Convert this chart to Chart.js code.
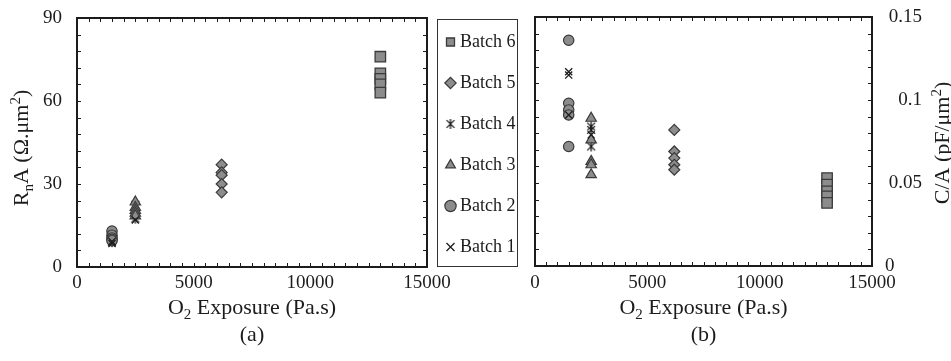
<!DOCTYPE html>
<html>
<head>
<meta charset="utf-8">
<script src="https://cdn.jsdelivr.net/npm/chart.js@4/dist/chart.umd.min.js"></script>
<style>
  html, body { margin: 0; padding: 0; background: #fff; }
  #wrap { position: relative; width: 951px; height: 361px; overflow: hidden; }
  #wrap canvas { position: absolute; left: 0; top: 0; }
  #legendBox { position: absolute; left: 437px; top: 19px; width: 81px; height: 248px;
               border: 1.3px solid #333; box-sizing: border-box; }
</style>
</head>
<body>
<div id="wrap">
  <canvas id="rnaChart" width="951" height="361"></canvas>
  <canvas id="capChart" width="951" height="361"></canvas>
  <div id="legendBox"></div>
  <canvas id="keyChart" width="951" height="361"></canvas>
</div>
<script>
// ---- data -------------------------------------------------------------
const batchNames = ['Batch 1', 'Batch 2', 'Batch 3', 'Batch 4', 'Batch 5', 'Batch 6'];

// [O2 exposure (Pa.s), RnA (Ω.μm²)]
const rnaBatch1 = [[1500, 8.5], [1500, 9.2], [2500, 17]];
const rnaBatch2 = [[1500, 13], [1500, 11.5], [1500, 10.5], [1500, 10], [1500, 9.5]];
const rnaBatch3 = [[2500, 23.5], [2500, 21.5], [2500, 20.5], [2500, 19.5], [2500, 18.5]];
const rnaBatch4 = [[2500, 22.5], [2500, 19], [2500, 17.5], [1500, 9]];
const rnaBatch5 = [[6200, 37], [6200, 34.2], [6200, 33.2], [6200, 30], [6200, 27]];
const rnaBatch6 = [[13000, 76], [13000, 70], [13000, 68], [13000, 66], [13000, 63]];

// [O2 exposure (Pa.s), C/A (pF/μm²)]
const capBatch1 = [[1500, 0.117], [1500, 0.115], [1500, 0.091], [2500, 0.079]];
const capBatch2 = [[1500, 0.136], [1500, 0.098], [1500, 0.094], [1500, 0.091], [1500, 0.072]];
const capBatch3 = [[2500, 0.089], [2500, 0.076], [2500, 0.063], [2500, 0.061], [2500, 0.055]];
const capBatch4 = [[2500, 0.084], [2500, 0.082], [2500, 0.072]];
const capBatch5 = [[6200, 0.082], [6200, 0.069], [6200, 0.065], [6200, 0.061], [6200, 0.058]];
const capBatch6 = [[13000, 0.053], [13000, 0.049], [13000, 0.045], [13000, 0.042], [13000, 0.038]];

const exposureTicks = [0, 5000, 10000, 15000];
const rnaTicks = [0, 30, 60, 90];
const capTicks = [0, 0.05, 0.1, 0.15];

// ---- styling ----------------------------------------------------------
const INK = '#1c1c1c';
const FILL = '#8c8c8c';
const EDGE = '#3a3a3a';
const SERIF = '"Liberation Serif", "Times New Roman", serif';

// six-armed asterisk marker (X plus a vertical bar)
function asteriskMark(size) {
  const c = document.createElement('canvas');
  c.width = c.height = size;
  const g = c.getContext('2d');
  const m = size / 2, r = size / 2 - 1, d = r * 0.78;
  g.strokeStyle = INK;
  g.lineWidth = 1.3;
  g.beginPath();
  g.moveTo(m - d, m - d); g.lineTo(m + d, m + d);
  g.moveTo(m + d, m - d); g.lineTo(m - d, m + d);
  g.moveTo(m, m - r); g.lineTo(m, m + r);
  g.stroke();
  return c;
}

const markStyles = [
  { pointStyle: 'crossRot', pointRadius: 5, backgroundColor: INK, borderColor: INK, borderWidth: 1.3 },
  { pointStyle: 'circle', pointRadius: 5.2, backgroundColor: FILL, borderColor: EDGE, borderWidth: 1.2 },
  { pointStyle: 'triangle', pointRadius: 6, backgroundColor: FILL, borderColor: EDGE, borderWidth: 1.2 },
  { pointStyle: asteriskMark(12), pointRadius: 6, backgroundColor: INK, borderColor: INK, borderWidth: 1.3 },
  { pointStyle: 'rectRot', pointRadius: 5.5, backgroundColor: FILL, borderColor: EDGE, borderWidth: 1.2 },
  { pointStyle: 'rect', pointRadius: 7.4, backgroundColor: FILL, borderColor: EDGE, borderWidth: 1.3 }
];

const toPoints = pairs => pairs.map(([x, y]) => ({ x, y }));

function makeDatasets(seriesList) {
  return batchNames.map((name, i) => Object.assign(
    { label: name, data: seriesList ? toPoints(seriesList[i]) : [], pointHoverRadius: markStyles[i].pointRadius },
    markStyles[i]
  ));
}

// ---- text helpers (sub/superscripts) ------------------------------------
function partFont(p, size) {
  return `${p.sub || p.sup ? Math.round(size * 0.66) : size}px ${SERIF}`;
}
function richWidth(ctx, parts, size) {
  let w = 0;
  parts.forEach(p => { ctx.font = partFont(p, size); w += ctx.measureText(p.t).width; });
  return w;
}
function drawRich(ctx, parts, cx, cy, size) {
  let x = cx - richWidth(ctx, parts, size) / 2;
  const base = cy + size * 0.33;
  ctx.textAlign = 'left';
  ctx.textBaseline = 'alphabetic';
  parts.forEach(p => {
    ctx.font = partFont(p, size);
    const yy = p.sub ? base + size * 0.2 : p.sup ? base - size * 0.38 : base;
    ctx.fillText(p.t, x, yy);
    x += ctx.measureText(p.t).width;
  });
}

// ---- frame, inward ticks, labels and titles ------------------------------
const framePlugin = {
  id: 'frame',
  afterDraw(chart, args, o) {
    const { ctx, chartArea: a, scales: { x, y } } = chart;
    const T = 4;
    ctx.save();
    ctx.strokeStyle = INK;
    ctx.lineWidth = 1;
    ctx.beginPath();
    for (let i = 0; ; i++) {
      const v = x.min + i * o.xStep;
      if (v > x.max + 1e-9) break;
      const px = Math.round(x.getPixelForValue(v)) + 0.5;
      ctx.moveTo(px, a.bottom); ctx.lineTo(px, a.bottom - T);
      ctx.moveTo(px, a.top); ctx.lineTo(px, a.top + T);
    }
    for (let i = 0; ; i++) {
      const v = y.min + i * o.yStep;
      if (v > y.max + 1e-9) break;
      const py = Math.round(y.getPixelForValue(v)) + 0.5;
      ctx.moveTo(a.left, py); ctx.lineTo(a.left + T, py);
      ctx.moveTo(a.right, py); ctx.lineTo(a.right - T, py);
    }
    ctx.stroke();
    ctx.lineWidth = 2;
    ctx.strokeRect(a.left, a.top, a.width, a.height);

    ctx.fillStyle = INK;
    ctx.font = `${o.tickSize}px ${SERIF}`;
    ctx.textBaseline = 'middle';
    ctx.textAlign = 'center';
    o.xTicks.forEach(v => ctx.fillText(String(v), x.getPixelForValue(v), o.xLabelY));
    o.yTicks.forEach(v => {
      const s = String(v);
      if (o.ySide === 'left') {
        ctx.textAlign = 'right';
        ctx.fillText(s, o.yLabelX, y.getPixelForValue(v));
      } else {
        // right-hand labels: whole zero sits flush left, decimals flush right
        const w = ctx.measureText(s).width;
        ctx.textAlign = 'left';
        ctx.fillText(s, v === 0 ? o.yLabelX : o.yLabelRight - w, y.getPixelForValue(v));
      }
    });

    const cx = (a.left + a.right) / 2;
    drawRich(ctx, o.xTitle, cx, o.xTitleY, o.titleSize);
    ctx.save();
    ctx.translate(o.yTitleX, o.yTitleY);
    ctx.rotate(-Math.PI / 2);
    drawRich(ctx, o.yTitle, 0, 0, o.titleSize);
    ctx.restore();
    drawRich(ctx, [{ t: o.panel }], cx, o.panelY, o.titleSize);
    ctx.restore();
  }
};

const xTitle = [{ t: 'O' }, { t: '2', sub: true }, { t: ' Exposure (Pa.s)' }];

function plotOptions(padding, xMax, yMax, frame) {
  return {
    responsive: false,
    animation: false,
    events: [],
    layout: { padding },
    scales: {
      x: { type: 'linear', min: 0, max: xMax, display: false },
      y: { type: 'linear', min: 0, max: yMax, display: false }
    },
    plugins: {
      legend: { display: false },
      tooltip: { enabled: false },
      frame: Object.assign({ tickSize: 19, titleSize: 22, xLabelY: 283, xTitleY: 307, panelY: 334 }, frame)
    }
  };
}

new Chart(document.getElementById('rnaChart'), {
  type: 'scatter',
  data: { datasets: makeDatasets([rnaBatch1, rnaBatch2, rnaBatch3, rnaBatch4, rnaBatch5, rnaBatch6]) },
  options: plotOptions({ left: 77, right: 524, top: 18, bottom: 94 }, 15000, 90, {
    xStep: 500, yStep: 6, xTicks: exposureTicks, yTicks: rnaTicks,
    ySide: 'left', yLabelX: 62, yTitleX: 21, yTitleY: 148,
    xTitle,
    yTitle: [{ t: 'R' }, { t: 'n', sub: true }, { t: 'A (Ω.μm' }, { t: '2', sup: true }, { t: ')' }],
    panel: '(a)'
  }),
  plugins: [framePlugin]
});

new Chart(document.getElementById('capChart'), {
  type: 'scatter',
  data: { datasets: makeDatasets([capBatch1, capBatch2, capBatch3, capBatch4, capBatch5, capBatch6]) },
  options: plotOptions({ left: 535, right: 79, top: 17, bottom: 95 }, 15000, 0.15, {
    xStep: 500, yStep: 0.01, xTicks: exposureTicks, yTicks: capTicks,
    ySide: 'right', yLabelX: 885, yLabelRight: 922, yTitleX: 942, yTitleY: 143,
    xTitle,
    yTitle: [{ t: 'C/A (pF/μm' }, { t: '2', sup: true }, { t: ')' }],
    panel: '(b)'
  }),
  plugins: [framePlugin]
});

// key listing the batches, newest first
new Chart(document.getElementById('keyChart'), {
  type: 'scatter',
  data: { datasets: makeDatasets(null) },
  options: {
    responsive: false,
    animation: false,
    events: [],
    layout: { padding: { left: 427, top: 10, right: 0, bottom: 0 } },
    scales: { x: { display: false }, y: { display: false } },
    plugins: {
      tooltip: { enabled: false },
      legend: {
        position: 'left',
        align: 'start',
        reverse: true,
        labels: {
          usePointStyle: true,
          boxWidth: 1,
          boxHeight: 8,
          padding: 23,
          color: INK,
          font: { family: SERIF, size: 18 }
        }
      }
    }
  }
});
</script>
</body>
</html>
